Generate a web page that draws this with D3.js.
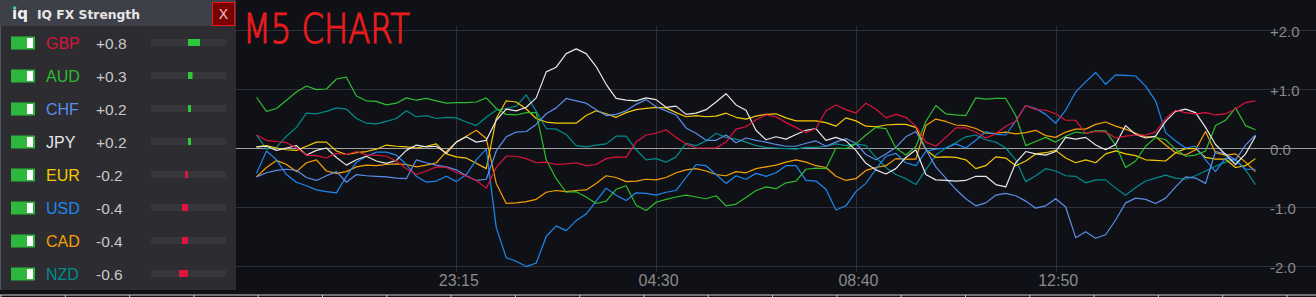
<!DOCTYPE html>
<html><head><meta charset="utf-8">
<script src="https://cdn.jsdelivr.net/npm/d3@7"></script>
<style>
html,body{margin:0;padding:0;background:#101117;overflow:hidden;}
svg{display:block;}
</style></head><body>
<svg id="c" width="1316" height="297"></svg>
<script>
// ---------- DATA ----------
const currencies = ["GBP","AUD","CHF","JPY","EUR","USD","CAD","NZD"];
const strengths = [0.8, 0.3, 0.2, 0.2, -0.2, -0.4, -0.4, -0.6];
const strengthLabels = ["+0.8","+0.3","+0.2","+0.2","-0.2","-0.4","-0.4","-0.6"];
const timeTickIndex = [20, 40, 60, 80];
const timeTickLabels = ["23:15","04:30","08:40","12:50"];
const yTickValues = [2, 1, 0, -1, -2];
const yTickLabels = ["+2.0","+1.0","0.0","-1.0","-2.0"];

const gbp = [0.22,0.13,0.11,0.09,0.0,-0.12,-0.13,-0.17,-0.09,-0.11,
 -0.06,-0.12,-0.12,-0.14,-0.22,-0.35,-0.45,-0.39,-0.32,-0.33,
 -0.41,-0.48,-0.55,-0.68,-0.33,-0.14,-0.14,-0.18,-0.25,-0.24,
 -0.28,-0.27,-0.25,-0.3,-0.28,-0.18,-0.15,-0.16,0.1,0.22,
 0.25,0.31,0.18,0.07,0.0,0.0,0.0,0.1,0.32,0.36,
 0.48,0.56,0.53,0.43,0.35,0.26,0.33,0.63,0.73,0.65,
 0.59,0.76,0.66,0.51,0.57,0.52,0.37,0.1,0.03,0.18,
 0.34,0.34,0.27,0.17,0.24,0.37,0.45,0.72,0.65,0.64,
 0.58,0.47,0.47,0.25,0.28,0.27,0.17,0.2,0.22,0.22,
 0.27,0.5,0.64,0.6,0.58,0.6,0.56,0.58,0.66,0.77,
 0.8];
const aud = [0.86,0.62,0.67,0.81,0.95,1.05,0.99,1.0,1.17,1.2,
 0.88,0.8,0.79,0.73,0.76,0.85,0.81,0.84,0.8,0.76,
 0.77,0.77,0.78,0.85,0.67,0.57,0.56,0.6,0.6,-0.2,
 -0.52,-0.75,-0.74,-0.83,-0.94,-0.9,-0.7,-0.64,-0.97,-1.06,
 -0.92,-0.87,-0.83,-0.8,-0.83,-0.86,-0.81,-0.98,-0.95,-0.84,
 -0.72,-0.66,-0.69,-0.59,-0.56,-0.36,-0.34,-0.35,0.0,-0.01,
 0.07,0.22,0.35,0.33,0.0,-0.12,0.02,0.45,0.72,0.58,
 0.56,0.55,0.85,0.83,0.84,0.84,0.55,0.04,0.11,0.18,
 0.1,0.2,0.27,0.25,0.29,0.29,0.05,-0.33,-0.22,0.03,
 0.18,0.14,-0.02,-0.14,-0.12,-0.05,0.38,0.47,0.68,0.38,
 0.31];
const chf = [-0.49,-0.42,-0.38,-0.36,-0.38,-0.5,-0.55,-0.47,-0.4,-0.58,
 -0.45,-0.47,-0.48,-0.49,-0.51,-0.52,-0.2,-0.25,-0.29,-0.32,
 -0.37,-0.47,-0.55,-0.53,-0.05,0.19,0.27,0.28,0.4,0.58,
 0.68,0.84,0.8,0.76,0.65,0.55,0.57,0.63,0.74,0.82,
 0.7,0.63,0.56,0.34,0.25,0.13,0.13,0.22,0.09,0.17,
 0.13,0.1,0.06,0.03,0.03,0.08,0.12,0.03,0.1,0.16,
 0.08,-0.11,-0.2,-0.1,0.01,0.19,0.28,-0.02,-0.32,-0.51,
 -0.7,-0.86,-0.98,-0.93,-0.8,-0.77,-0.81,-0.9,-1.02,-0.98,
 -0.86,-1.0,-1.52,-1.42,-1.53,-1.47,-1.22,-0.93,-0.85,-0.87,
 -0.94,-0.85,-0.66,-0.49,-0.51,-0.6,-0.06,-0.1,-0.2,0.05,
 0.22];
const jpy = [0.02,0.03,-0.04,0.0,0.04,-0.12,-0.04,0.0,-0.16,-0.29,
 -0.2,-0.14,-0.22,-0.26,-0.21,-0.04,0.05,0.02,0.03,-0.09,
 0.1,0.19,0.1,0.13,0.47,0.66,0.63,0.69,0.85,1.29,
 1.37,1.6,1.68,1.6,1.38,1.08,0.84,0.81,0.8,0.85,
 0.82,0.69,0.71,0.57,0.59,0.65,0.78,0.92,0.73,0.64,
 0.3,0.14,0.19,0.15,0.23,0.3,0.33,0.13,0.18,0.12,
 -0.04,-0.26,-0.37,-0.44,-0.35,-0.16,-0.03,-0.45,-0.54,-0.55,
 -0.56,-0.55,-0.48,-0.48,-0.62,-0.66,-0.25,-0.06,-0.1,-0.12,
 -0.06,0.18,0.15,0.18,0.05,-0.03,0.06,0.38,0.23,0.17,
 0.2,0.45,0.62,0.66,0.6,0.35,0.06,-0.11,-0.28,-0.1,
 0.2];
const eur = [0.02,0.04,0.0,-0.03,-0.04,0.03,0.1,0.1,-0.05,-0.11,
 -0.08,-0.06,-0.02,0.05,0.03,0.02,0.0,0.03,0.07,-0.1,
 -0.15,-0.17,-0.26,-0.35,0.5,0.8,0.78,0.66,0.5,0.44,
 0.42,0.42,0.42,0.55,0.63,0.58,0.52,0.6,0.65,0.67,
 0.69,0.68,0.6,0.53,0.55,0.53,0.54,0.59,0.52,0.49,
 0.54,0.57,0.58,0.51,0.46,0.46,0.46,0.43,0.37,0.51,
 0.46,0.37,0.36,0.39,0.4,0.4,0.35,-0.03,-0.16,-0.15,
 -0.16,-0.2,-0.35,-0.3,-0.15,-0.17,-0.3,-0.22,-0.1,-0.08,
 -0.04,-0.17,-0.25,-0.2,-0.25,-0.1,-0.05,-0.1,-0.13,-0.2,
 -0.21,-0.22,-0.08,-0.01,-0.01,-0.16,-0.19,-0.19,-0.33,-0.3,
 -0.18];
const usd = [-0.43,-0.05,-0.2,-0.45,-0.58,-0.64,-0.71,-0.74,-0.76,-0.48,
 -0.24,-0.14,-0.07,-0.07,-0.12,-0.28,-0.48,-0.58,-0.56,-0.48,
 -0.57,-0.45,-0.2,-0.02,-1.35,-1.86,-1.92,-2.01,-1.95,-1.5,
 -1.32,-1.4,-1.23,-1.12,-0.9,-0.68,-0.8,-0.89,-0.76,-0.77,
 -0.8,-0.75,-0.72,-0.5,-0.28,-0.3,-0.45,-0.6,-0.47,-0.53,
 -0.43,-0.48,-0.42,-0.3,-0.3,-0.55,-0.56,-0.7,-1.05,-0.98,
 -0.74,-0.6,-0.36,-0.14,-0.09,-0.25,-0.3,-0.06,-0.02,0.0,
 0.07,0.0,0.13,0.28,0.23,0.22,0.46,0.72,0.67,0.57,
 0.42,0.64,0.95,1.12,1.28,1.08,1.24,1.23,1.22,1.05,
 0.8,0.26,0.12,0.0,0.03,-0.2,-0.4,-0.17,-0.21,-0.36,
 -0.36];
const cad = [-0.49,-0.33,-0.21,-0.28,-0.4,-0.25,-0.2,-0.39,-0.43,-0.4,
 -0.32,-0.29,-0.3,-0.28,-0.27,-0.28,-0.32,-0.29,-0.25,-0.06,
 0.1,0.2,0.3,0.16,-0.6,-0.94,-0.93,-0.91,-0.87,-0.75,
 -0.72,-0.74,-0.72,-0.71,-0.6,-0.47,-0.5,-0.57,-0.56,-0.53,
 -0.54,-0.5,-0.42,-0.37,-0.35,-0.39,-0.45,-0.47,-0.4,-0.42,
 -0.35,-0.32,-0.29,-0.24,-0.2,-0.24,-0.3,-0.33,-0.48,-0.55,
 -0.52,-0.38,-0.33,-0.3,-0.18,-0.19,-0.19,0.38,0.49,0.45,
 0.39,0.38,0.33,0.25,0.25,0.27,0.24,0.26,0.3,0.21,
 0.18,0.27,0.32,0.32,0.4,0.44,0.37,0.32,0.25,0.19,
 0.19,0.05,-0.08,-0.12,-0.03,0.28,-0.08,-0.12,-0.1,-0.24,
 -0.4];
const nzd = [0.22,-0.02,0.01,0.2,0.35,0.59,0.58,0.62,0.68,0.66,
 0.5,0.42,0.41,0.45,0.5,0.63,0.53,0.55,0.5,0.52,
 0.51,0.44,0.38,0.52,0.64,0.67,0.71,0.9,0.62,0.33,
 0.32,0.23,0.04,0.02,0.05,0.07,0.2,0.2,-0.03,-0.2,
 -0.18,-0.24,-0.15,0.08,0.04,0.12,0.25,0.18,0.15,0.1,
 0.04,0.01,0.0,-0.01,-0.02,0.01,0.01,0.03,0.07,0.04,
 0.07,0.04,-0.16,-0.33,-0.45,-0.52,-0.62,-0.37,-0.12,0.0,
 0.09,0.19,0.22,0.14,0.1,0.0,-0.2,-0.57,-0.47,-0.35,
 -0.39,-0.47,-0.48,-0.59,-0.54,-0.54,-0.68,-0.8,-0.67,-0.56,
 -0.51,-0.46,-0.51,-0.53,-0.47,-0.39,-0.31,-0.24,-0.19,-0.37,
 -0.62];

const seriesValues = {GBP: gbp, AUD: aud, CHF: chf, JPY: jpy, EUR: eur, USD: usd, CAD: cad, NZD: nzd};

// ---------- STYLE ----------
const colors = {GBP:"#dc143c", AUD:"#2ebd2e", CHF:"#5b8ee8", JPY:"#e8e8e8",
  EUR:"#f5c800", USD:"#1e88f0", CAD:"#f5a000", NZD:"#008c8c"};
const drawOrder = ["NZD","CAD","EUR","USD","CHF","AUD","JPY","GBP"];

const svg = d3.select("#c");
const W = 1316, H = 297;

svg.append("rect").attr("width", W).attr("height", H).attr("fill", "#101117");

const x = d3.scaleLinear().domain([0, 100]).range([256.5, 1255.5]);
const y = d3.scaleLinear().domain([-2, 2]).range([266, 30]);

// horizontal grid
const grid = svg.append("g");
grid.selectAll("line.h").data(yTickValues.filter(v => v !== 0)).enter().append("line")
  .attr("x1", 236).attr("x2", W)
  .attr("y1", d => Math.round(y(d)) + 0.5).attr("y2", d => Math.round(y(d)) + 0.5)
  .attr("stroke", "#2d2f3c").attr("stroke-width", 1);

// x axis with vertical grid
const xAxis = d3.axisBottom(x).tickValues(timeTickIndex)
  .tickFormat((d, i) => timeTickLabels[i]).tickSize(-246).tickPadding(3);
const gx = svg.append("g").attr("transform", "translate(0,272)").call(xAxis);
gx.select(".domain").remove();
gx.selectAll(".tick line").attr("stroke", "#2d2f3c").attr("shape-rendering", "crispEdges");
gx.selectAll(".tick text").attr("fill", "#8a8a8a").attr("font-size", "16px")
  .attr("font-family", "'Liberation Sans', Arial, sans-serif").attr("dx", "2");

// zero line
svg.append("line").attr("x1", 236).attr("x2", W)
  .attr("y1", Math.round(y(0)) + 0.5).attr("y2", Math.round(y(0)) + 0.5)
  .attr("stroke", "#a0a0a0").attr("stroke-width", 1);

// y axis labels
const yAxis = d3.axisRight(y).tickValues(yTickValues)
  .tickFormat((d, i) => yTickLabels[i]).tickSize(0).tickPadding(4);
const gy = svg.append("g").attr("transform", "translate(1266,0)").call(yAxis);
gy.select(".domain").remove();
gy.selectAll(".tick text").attr("fill", "#8a8a8a").attr("font-size", "15px")
  .attr("font-family", "'Liberation Sans', Arial, sans-serif").attr("dy", "0.45em");

// series lines
const line = d3.line().x((d, i) => x(i)).y(d => y(d));
svg.append("g").selectAll("path").data(drawOrder).enter().append("path")
  .attr("d", c => line(seriesValues[c]))
  .attr("fill", "none").attr("stroke", c => colors[c])
  .attr("stroke-width", 1.2).attr("stroke-linejoin", "round");

// M5 CHART handwritten note
svg.append("text").attr("x", 243).attr("y", 43)
  .attr("font-family", "'DejaVu Sans', sans-serif").attr("font-weight", "200")
  .attr("font-size", "40px").attr("fill", "#e81c1c").attr("stroke", "#e81c1c").attr("stroke-width", 1.2)
  .attr("textLength", 167).attr("lengthAdjust", "spacingAndGlyphs")
  .text("M5 CHART");

// bottom strip line
svg.append("line").attr("x1", 0).attr("x2", W).attr("y1", 295).attr("y2", 295)
  .attr("stroke", "#cfd3da").attr("stroke-width", 1.2);
svg.append("g").selectAll("line").data(d3.range(0, 21)).enter().append("line")
  .attr("x1", d => 1 + d * 64.3).attr("x2", d => 1 + d * 64.3)
  .attr("y1", 295).attr("y2", 297).attr("stroke", "#cfd3da");

// ---------- LEFT PANEL ----------
const panel = svg.append("g");
panel.append("rect").attr("x", 0).attr("y", 0).attr("width", 236).attr("height", 290).attr("fill", "#2c2c31");
panel.append("rect").attr("x", 0).attr("y", 0).attr("width", 236).attr("height", 26).attr("fill", "#3d4048");
panel.append("line").attr("x1", 0.5).attr("x2", 0.5).attr("y1", 26).attr("y2", 290).attr("stroke", "#4d5463");

panel.append("text").attr("x", 12).attr("y", 19).attr("fill", "#f2f2f2")
  .attr("font-family", "'DejaVu Sans', sans-serif").attr("font-weight", "bold").attr("font-size", "15px")
  .text("iq");
panel.append("rect").attr("x", 13.2).attr("y", 6.2).attr("width", 2.4).attr("height", 2.6).attr("fill", "#1fbf9a");
panel.append("text").attr("x", 37).attr("y", 19).attr("fill", "#e6e6e6")
  .attr("font-family", "'DejaVu Sans', sans-serif").attr("font-weight", "bold").attr("font-size", "13px")
  .attr("textLength", 103).attr("lengthAdjust", "spacingAndGlyphs")
  .text("IQ FX Strength");

panel.append("rect").attr("x", 212.5).attr("y", 2.5).attr("width", 22).attr("height", 23)
  .attr("fill", "#780000").attr("stroke", "#ec1414").attr("stroke-width", 1);
panel.append("text").attr("x", 223.5).attr("y", 19).attr("text-anchor", "middle")
  .attr("fill", "#f2c6c6").attr("font-family", "'Liberation Sans', Arial, sans-serif").attr("font-size", "14px")
  .text("X");

const rowY = d3.scalePoint().domain(currencies).range([43, 274]);
const barScale = d3.scaleLinear().domain([-1, 1]).range([-15, 15]);
const barCenter = 188;

const rows = panel.selectAll("g.row").data(currencies).enter().append("g")
  .attr("transform", c => `translate(0,${rowY(c)})`);
rows.append("rect").attr("x", 11).attr("y", -6.5).attr("width", 24).attr("height", 13).attr("fill", "#2db83d");
rows.append("rect").attr("x", 27).attr("y", -5).attr("width", 6).attr("height", 10).attr("fill", "#ffffff");
rows.append("text").attr("x", 46).attr("y", 6).attr("fill", c => colors[c])
  .attr("font-family", "'Liberation Sans', Arial, sans-serif").attr("font-size", "16px").text(c => c);
rows.append("text").attr("x", 96).attr("y", 6).attr("fill", "#c8c8c8")
  .attr("font-family", "'Liberation Sans', Arial, sans-serif").attr("font-size", "15.5px")
  .text((c, i) => strengthLabels[i]);
rows.append("rect").attr("x", 151).attr("y", -4).attr("width", 75).attr("height", 7).attr("fill", "#37373b");
rows.append("rect")
  .attr("x", (c, i) => strengths[i] >= 0 ? barCenter : barCenter - Math.max(2, Math.abs(barScale(strengths[i]))))
  .attr("y", -4).attr("height", 7)
  .attr("width", (c, i) => Math.max(2, Math.abs(barScale(strengths[i]))))
  .attr("fill", (c, i) => strengths[i] >= 0 ? "#2dc93a" : "#e0143c");
</script>
</body></html>
